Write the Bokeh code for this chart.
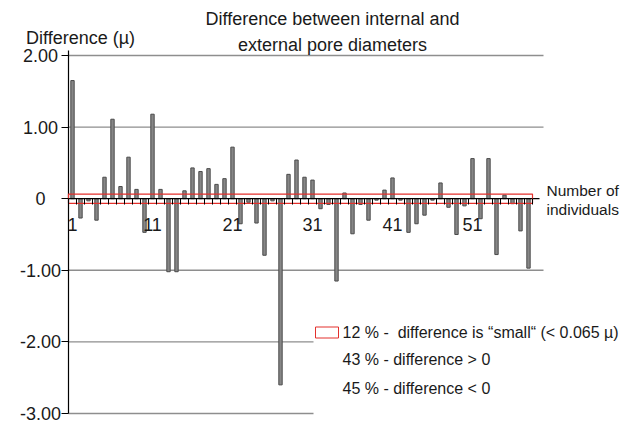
from bokeh.plotting import figure
from bokeh.models import Range1d, FixedTicker, Label, NumeralTickFormatter
from bokeh.core.properties import value
from bokeh.embed import file_html
from bokeh.resources import INLINE

# ---------------- data ----------------
individuals = list(range(1, 59))
difference = [
    1.65, -0.27, -0.03, -0.30, 0.30, 1.11, 0.17, 0.58, 0.13, -0.47,
    1.18, 0.13, -1.02, -1.02, 0.11, 0.43, 0.38, 0.42, 0.20, 0.28,
    0.72, -0.35, -0.05, -0.34, -0.79, -0.03, -2.60, 0.34, 0.54, 0.30,
    0.26, -0.14, -0.08, -1.15, 0.08, -0.49, -0.08, -0.30, -0.02, 0.12,
    0.29, -0.02, -0.47, -0.35, -0.23, -0.02, 0.22, -0.12, -0.50, -0.10,
    0.56, -0.28, 0.56, -0.78, 0.05, -0.07, -0.45, -0.97,
]
y_ticks = [-3, -2, -1, 0, 1, 2]
y_tick_labels = ["-3.00", "-2.00", "-1.00", "0", "1.00", "2.00"]
x_label_ticks = [1, 11, 21, 31, 41, 51]
threshold = 0.065
legend_lines = [
    "12 % -\u00a0 difference is \u201csmall\u201c (< 0.065 \u00b5)",
    "43 % - difference > 0",
    "45 % - difference < 0",
]
title_text = "Difference between internal and\nexternal pore diameters"
y_title = "Difference (\u00b5)"
x_title = "Number of\nindividuals"

# ---------------- layout / style ----------------
FONT = "Liberation Sans"
TXT = "#1a1a1a"
n = len(individuals)
W, H = 623, 425
AX_PX, CAT_PX = 68, 8.0          # y-axis position and category width (px)
TOP_PX, KPX = 55, 71.6           # pixel row of y=2 and px per unit
x0 = 0.5 - AX_PX / CAT_PX
x1 = 0.5 + (W - AX_PX) / CAT_PX
y1 = 2 + TOP_PX / KPX
y0 = 2 - (H - TOP_PX) / KPX

def xd(px):
    return 0.5 + (px - AX_PX) / CAT_PX

def yd(py):
    return 2 - (py - TOP_PX) / KPX

GRID_END = n + 0.5 + 11 / CAT_PX
AXIS_END = n + 0.5 + 7 / CAT_PX
SHORT_END = xd(313)

p = figure(width=W, height=H, output_backend="svg", toolbar_location=None,
           x_range=Range1d(x0, x1), y_range=Range1d(y0, y1),
           min_border=0, min_border_left=0, min_border_right=0,
           min_border_top=0, min_border_bottom=0)
p.outline_line_color = None
p.xgrid.visible = False
p.ygrid.visible = False

# gridlines (the lower ones stop where the legend begins)
for t in y_ticks:
    if t == 0:
        continue
    end = GRID_END if t > -1.5 else SHORT_END
    p.segment(x0=[0.5], y0=[t], x1=[end], y1=[t], line_color="#8e8e8e", line_width=1.4)

# bars
p.vbar(x=individuals, top=difference, bottom=0, width=0.42,
       fill_color="#878787", line_color="#4a4a4a", line_width=1)

# axis lines
p.segment(x0=[0.5], y0=[0], x1=[AXIS_END], y1=[0], line_color="black", line_width=1.2)
p.segment(x0=[0.5], y0=[min(y_ticks)], x1=[0.5], y1=[max(y_ticks) + 0.07],
          line_color="black", line_width=1.2)

# "small" band
p.quad(left=[0.5], right=[n + 0.5], bottom=[-threshold], top=[threshold],
       fill_color=None, line_color="#e3302c", line_width=1.2)

# x axis at y = 0
xa = p.xaxis[0]
xa.fixed_location = 0
xa.ticker = FixedTicker(ticks=x_label_ticks, minor_ticks=[i + 0.5 for i in range(n + 1)])
xa.axis_line_color = None
xa.major_tick_line_color = None
xa.major_tick_out = 0
xa.major_tick_in = 0
xa.minor_tick_line_color = "black"
xa.minor_tick_out = 6
xa.minor_tick_in = 0
xa.major_label_standoff = 13
xa.major_label_text_font = FONT
xa.major_label_text_font_size = "18px"
xa.major_label_text_color = TXT
xa.major_label_overrides = {t: str(t) for t in x_label_ticks}

# y axis at x = 0.5 (ticks from the axis, labels centred like the original)
ya = p.yaxis[0]
ya.fixed_location = 0.5
ya.ticker = FixedTicker(ticks=y_ticks, minor_ticks=[])
ya.formatter = NumeralTickFormatter(format="0.00")
ya.major_label_overrides = {t: "" for t in y_ticks}
ya.axis_line_color = None
ya.major_tick_line_color = "black"
ya.major_tick_line_width = 1.2
ya.major_tick_out = 7
ya.major_tick_in = 0
ya.major_label_text_font_size = "1px"
p.text(x=[xd(40)] * len(y_ticks), y=y_ticks, text=y_tick_labels,
       text_align="center", text_baseline="middle", text_font=value(FONT),
       text_font_size="18px", text_color=TXT)

# texts
p.add_layout(Label(x=xd(332), y=yd(31.5), text=title_text, text_align="center",
                   text_baseline="middle", text_font=FONT, text_font_size="18px",
                   text_line_height=1.28, text_color=TXT))
p.add_layout(Label(x=xd(80), y=yd(37), text=y_title, text_align="center",
                   text_baseline="middle", text_font=FONT, text_font_size="18px",
                   text_color=TXT))
p.add_layout(Label(x=AXIS_END + 7 / CAT_PX, y=-0.018, text=x_title, text_align="left",
                   text_baseline="middle", text_font=FONT, text_font_size="15.5px",
                   text_line_height=1.17, text_color=TXT))

# legend
p.quad(left=[xd(315)], right=[xd(338)], bottom=[yd(337.5)], top=[yd(326.5)],
       fill_color="white", line_color="#e3302c", line_width=1)
for txt, py in zip(legend_lines, [331.5, 359, 388]):
    p.add_layout(Label(x=xd(342), y=yd(py), text=txt, text_align="left",
                       text_baseline="middle", text_font=FONT,
                       text_font_size="16px", text_color=TXT))

open("out.html", "w").write(file_html(p, INLINE))
